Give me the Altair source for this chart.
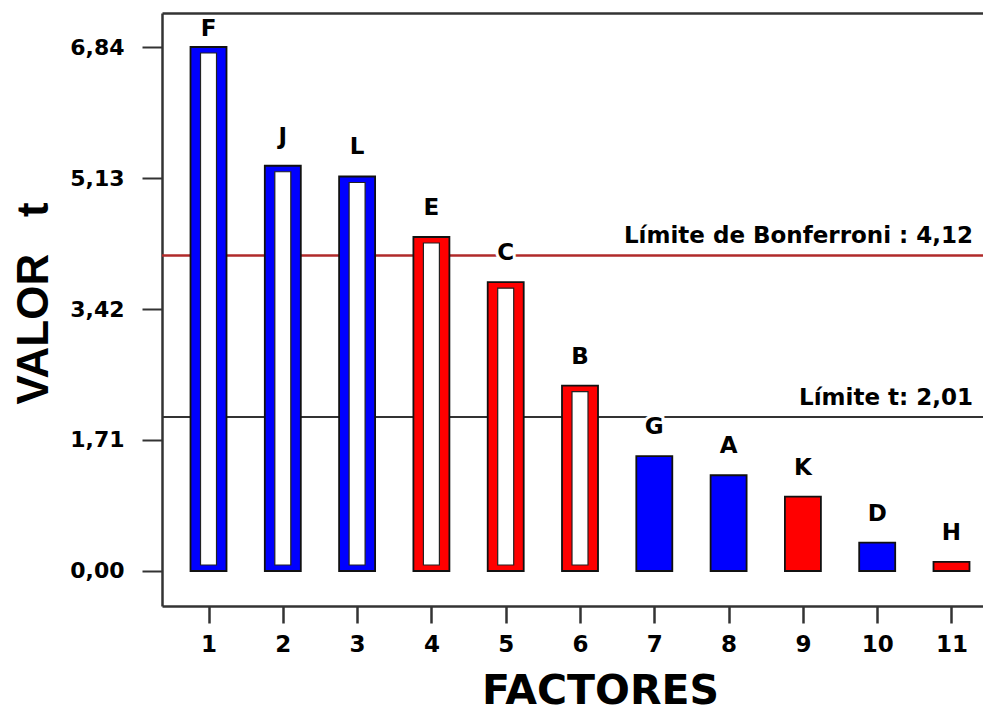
import altair as alt
import pandas as pd

# ---- data ----
factores = ["F", "J", "L", "E", "C", "B", "G", "A", "K", "D", "H"]
posicion = [1, 2, 3, 4, 5, 6, 7, 8, 9, 10, 11]
valor_t = [6.84, 5.29, 5.15, 4.36, 3.77, 2.42, 1.50, 1.25, 0.97, 0.37, 0.12]
efecto = ["+", "+", "+", "-", "-", "-", "+", "+", "-", "+", "-"]
ticks_y = [0.00, 1.71, 3.42, 5.13, 6.84]
ticks_x = posicion
limite_t = 2.01
limite_bonferroni = 4.12

x_min, x_max = 0.374, 11.424
y_min, y_max = -0.457, 7.284

FONT = "DejaVu Sans"
AZUL, ROJO = "#0000ff", "#ff0000"

df = pd.DataFrame({"factor": factores, "pos": posicion, "t": valor_t, "efecto": efecto})

def coma(v):
    return f"{v:.2f}".replace(".", ",")

lim = pd.DataFrame({
    "valor": [limite_bonferroni, limite_t],
    "texto": [f"Límite de Bonferroni : {coma(limite_bonferroni)}", f"Límite t: {coma(limite_t)}"],
    "tipo": ["bonf", "t"],
})

xs = alt.Scale(domain=[x_min, x_max], nice=False, zero=False, padding=0)
ys = alt.Scale(domain=[y_min, y_max], nice=False, zero=False, padding=0)
col = alt.Color("efecto:N", scale=alt.Scale(domain=["+", "-"], range=[AZUL, ROJO]), legend=None)

x_axis = alt.Axis(
    values=ticks_x, format="d", grid=False, domainColor="#333", domainWidth=2.5,
    tickColor="#333", tickWidth=2.5, tickSize=17, labelPadding=10,
    labelFont=FONT, labelFontSize=23, labelFontWeight="bold", labelColor="black",
    title="FACTORES", titleFont=FONT, titleFontSize=41, titleFontWeight="bold",
    titleColor="black", titleX=438, titleY=97, titleBaseline="alphabetic", titleAlign="center",
)
y_axis = alt.Axis(
    values=ticks_y, labelExpr="replace(format(datum.value, '.2f'), '.', ',')",
    grid=False, domainColor="#333", domainWidth=2.5, tickColor="#333", tickWidth=2,
    tickSize=20, labelPadding=18, labelFont=FONT, labelFontSize=22,
    labelFontWeight="bold", labelColor="black",
    title="VALOR\u00a0\u00a0\u00a0t", titleFont="Liberation Sans", titleFontSize=44,
    titleFontWeight="bold", titleColor="black", titleAngle=270, titleX=-115, titleY=290,
    titleBaseline="alphabetic", titleAlign="center",
)
top_axis = alt.Axis(orient="top", domain=True, domainColor="#333", domainWidth=2.5,
                    ticks=False, labels=False, grid=False, title=None)

base = alt.Chart(df)

reglas = alt.Chart(lim).mark_rule().encode(
    y=alt.Y("valor:Q", scale=ys, axis=y_axis),
    color=alt.Color("tipo:N", scale=alt.Scale(domain=["bonf", "t"], range=["#b02a2a", "#333333"]), legend=None),
    strokeWidth=alt.StrokeWidth("tipo:N", scale=alt.Scale(domain=["bonf", "t"], range=[2.5, 2]), legend=None),
)

textos_lim = alt.Chart(lim).mark_text(
    font=FONT, fontSize=23, fontWeight="bold", align="right", baseline="alphabetic",
    dx=-10, dy=-12, color="black",
).encode(
    x=alt.datum(x_max, scale=xs, axis=None),
    y=alt.Y("valor:Q", scale=ys, axis=y_axis),
    text="texto:N",
)

barras = base.mark_bar(size=36, stroke="#111", strokeWidth=1.8).encode(
    x=alt.X("pos:Q", scale=xs, axis=x_axis),
    y=alt.Y("t:Q", scale=ys, axis=y_axis),
    y2=alt.datum(0),
    color=col,
)

interior = base.transform_filter(alt.datum.t > limite_t).mark_bar(
    size=16, fill="white", stroke="#222", strokeWidth=1.2, yOffset=6, y2Offset=-6,
).encode(
    x=alt.X("pos:Q", scale=xs, axis=top_axis),
    y=alt.Y("t:Q", scale=ys, axis=y_axis),
    y2=alt.datum(0),
)

lab = base.transform_calculate(ly="min(datum.t + 0.287, 6.98)")
halo = lab.mark_text(font=FONT, fontSize=23, fontWeight="bold", baseline="alphabetic",
                     stroke="white", strokeWidth=6, fill="white").encode(
    x=alt.X("pos:Q", scale=xs, axis=None),
    y=alt.Y("ly:Q", scale=ys, axis=y_axis),
    text="factor:N",
)
etiquetas = lab.mark_text(font=FONT, fontSize=23, fontWeight="bold", baseline="alphabetic",
                          color="black").encode(
    x=alt.X("pos:Q", scale=xs, axis=None),
    y=alt.Y("ly:Q", scale=ys, axis=y_axis),
    text="factor:N",
)

chart = alt.layer(reglas, textos_lim, barras, interior, halo, etiquetas).resolve_axis(
    x="independent"
).resolve_scale(color="independent", strokeWidth="independent").properties(
    width=821, height=593,
    autosize=alt.AutoSizeParams(type="none"),
    padding={"left": 154, "top": 5, "right": 0, "bottom": 107},
    background="white",
).configure_view(stroke=None)

chart.save("out.html", embed_options={"renderer": "svg", "actions": False})
